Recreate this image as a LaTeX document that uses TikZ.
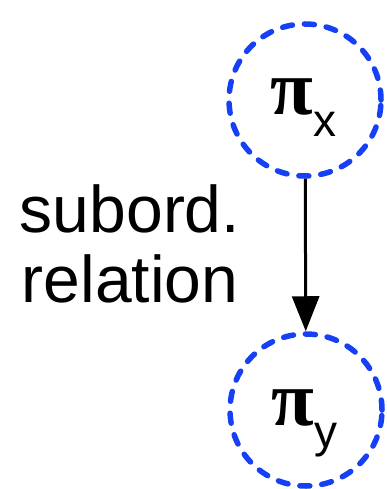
\documentclass[tikz,border=0pt]{standalone}
\usepackage{fontspec}
\setmainfont{Liberation Sans}
\newfontfamily\pifont{Liberation Serif}
\usetikzlibrary{arrows.meta}
\definecolor{dotblue}{RGB}{22,64,245}
\newcommand{\pisub}[1]{{\pifont\bfseries\fontsize{78}{78}\selectfont π}\kern1pt\raisebox{-22pt}{\fontsize{46}{46}\selectfont #1}}
\begin{document}
\begin{tikzpicture}[x=1pt,y=-1pt,
  state/.style={circle,draw=dotblue,line width=5.5pt,dash pattern=on 10pt off 12pt,line cap=round,minimum size=152pt,inner sep=0pt},
  lbl/.style={font=\fontsize{66}{70}\selectfont,align=center,inner sep=0pt},
  conn/.style={line width=3pt,-{Triangle[length=35pt,width=27pt]}}]
\useasboundingbox (0,0) rectangle (386,489);
\node[state] (px) at (305,100) {};
\node[state] (py) at (306,410) {};
\node[anchor=base west,inner sep=0pt] (tx) at (270,115) {\pisub{x}};
\node[anchor=base west,inner sep=0pt] (ty) at (271,425) {\pisub{y}};
\node[lbl,anchor=base] (rel) at (130,302) {subord.\\relation};
\draw[conn] (px) -- (py);
\end{tikzpicture}
\end{document}
